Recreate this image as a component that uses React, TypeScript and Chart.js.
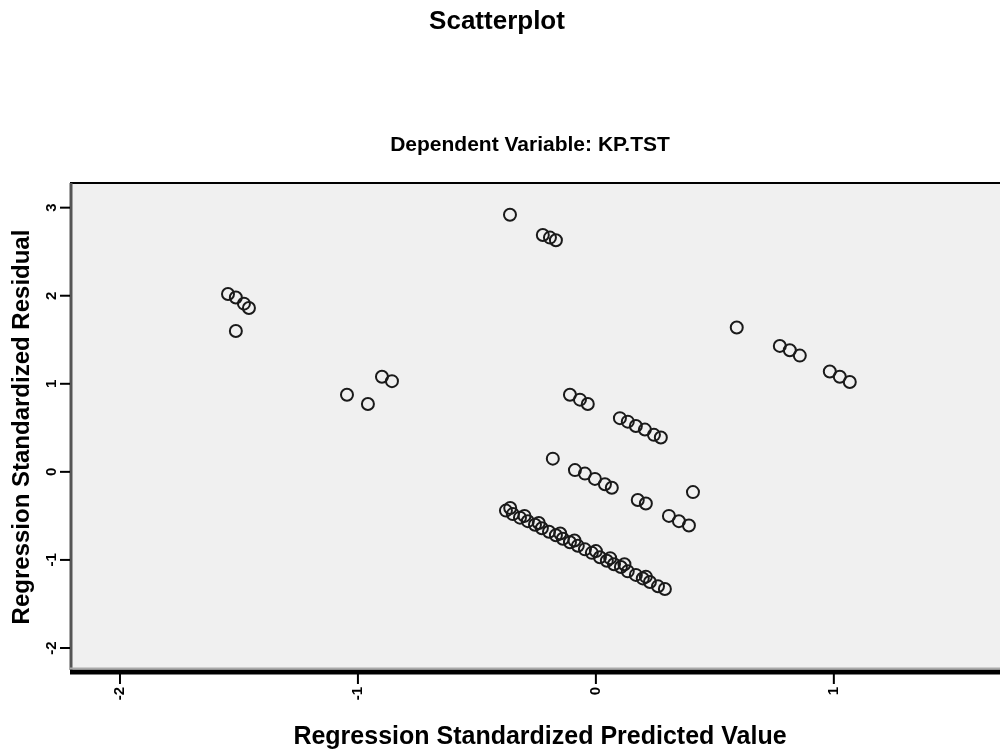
import React, { useEffect, useRef } from "react";
import { Chart, registerables } from "chart.js";

Chart.register(...registerables);

const chartTitle = "Scatterplot";
const subTitle = "Dependent Variable: KP.TST";
const xAxisTitle = "Regression Standardized Predicted Value";
const yAxisTitle = "Regression Standardized Residual";
const xTickValues = [-2, -1, 0, 1];
const yTickValues = [-2, -1, 0, 1, 2, 3];

const predictedValues = [
  -1.546, -1.513, -1.479, -1.458, -1.513,
  -1.046, -0.958, -0.899, -0.857,
  -0.361, -0.223, -0.193, -0.168,
  -0.109, -0.067, -0.034,
  0.101, 0.134, 0.168, 0.206, 0.244, 0.273,
  -0.181, -0.088, -0.046, -0.004, 0.038, 0.067,
  0.176, 0.21, 0.408,
  0.307, 0.349, 0.391,
  0.592, 0.773, 0.815, 0.857, 0.983, 1.025, 1.067,
  -0.378, -0.349, -0.319, -0.286, -0.256, -0.227, -0.197, -0.168, -0.139, -0.109,
  -0.076, -0.046, -0.017, 0.017, 0.046, 0.076, 0.105, 0.134, 0.168, 0.197,
  0.227, 0.261, 0.29,
  -0.36, -0.3, -0.24, -0.15, -0.09, 0.0, 0.06, 0.12, 0.21,
];

const residualValues = [
  2.02, 1.98, 1.91, 1.86, 1.6,
  0.875, 0.77, 1.08, 1.03,
  2.92, 2.69, 2.66, 2.63,
  0.875, 0.82, 0.77,
  0.61, 0.57, 0.52, 0.48, 0.42, 0.39,
  0.15, 0.02, -0.02, -0.08, -0.14, -0.18,
  -0.32, -0.36, -0.23,
  -0.5, -0.56, -0.61,
  1.64, 1.43, 1.38, 1.32, 1.14, 1.08, 1.02,
  -0.44, -0.48, -0.52, -0.56, -0.6, -0.64, -0.68, -0.72, -0.76, -0.8,
  -0.84, -0.88, -0.92, -0.97, -1.01, -1.05, -1.08, -1.13, -1.17, -1.21,
  -1.25, -1.3, -1.33,
  -0.41, -0.5, -0.58, -0.7, -0.78, -0.9, -0.98, -1.05, -1.19,
];

const FONT = '"Liberation Sans", Arial, sans-serif';

const sketchPlugin = {
  id: "spssFrame",
  beforeDraw(chart: any) {
    const { ctx, chartArea: a } = chart;
    ctx.save();
    ctx.fillStyle = "#ffffff";
    ctx.fillRect(0, 0, chart.width, chart.height);
    ctx.fillStyle = "#f0f0f0";
    ctx.fillRect(a.left, a.top, a.right - a.left, a.bottom - a.top);
    ctx.restore();
  },
  afterDraw(chart: any) {
    const { ctx, chartArea: a } = chart;
    const xs = chart.scales.x;
    const ys = chart.scales.y;
    ctx.save();
    // frame
    ctx.strokeStyle = "#000";
    ctx.lineWidth = 2;
    ctx.beginPath();
    ctx.moveTo(a.left, a.top);
    ctx.lineTo(a.right, a.top);
    ctx.lineTo(a.right, a.bottom);
    ctx.stroke();
    ctx.strokeStyle = "#555";
    ctx.lineWidth = 3;
    ctx.beginPath();
    ctx.moveTo(a.left + 1, a.top);
    ctx.lineTo(a.left + 1, a.bottom);
    ctx.stroke();
    ctx.strokeStyle = "#000";
    ctx.lineWidth = 5;
    ctx.beginPath();
    ctx.moveTo(a.left, a.bottom + 2);
    ctx.lineTo(a.right, a.bottom + 2);
    ctx.stroke();
    ctx.strokeStyle = "#aaa";
    ctx.lineWidth = 2;
    ctx.beginPath();
    ctx.moveTo(a.left, a.bottom - 1.5);
    ctx.lineTo(a.right, a.bottom - 1.5);
    ctx.stroke();

    // x ticks
    ctx.strokeStyle = "#000";
    ctx.lineWidth = 2;
    ctx.fillStyle = "#000";
    ctx.font = `bold 15px ${FONT}`;
    xTickValues.forEach((v) => {
      const px = xs.getPixelForValue(v);
      ctx.beginPath();
      ctx.moveTo(px, a.bottom + 4);
      ctx.lineTo(px, a.bottom + 14);
      ctx.stroke();
      ctx.save();
      ctx.translate(px, a.bottom + 17);
      ctx.rotate(-Math.PI / 2);
      ctx.textAlign = "right";
      ctx.textBaseline = "middle";
      ctx.fillText(String(v), 0, 0);
      ctx.restore();
    });
    // y ticks
    yTickValues.forEach((v) => {
      const py = ys.getPixelForValue(v);
      ctx.beginPath();
      ctx.moveTo(a.left, py);
      ctx.lineTo(a.left - 10, py);
      ctx.stroke();
      ctx.save();
      ctx.translate(a.left - 18, py);
      ctx.rotate(-Math.PI / 2);
      ctx.textAlign = "center";
      ctx.textBaseline = "middle";
      ctx.fillText(String(v), 0, 0);
      ctx.restore();
    });

    // titles
    ctx.textAlign = "center";
    ctx.textBaseline = "middle";
    ctx.font = `bold 26px ${FONT}`;
    ctx.fillText(chartTitle, 497, 22);
    ctx.font = `bold 21px ${FONT}`;
    ctx.fillText(subTitle, 530, 145);
    ctx.font = `bold 25px ${FONT}`;
    ctx.fillText(xAxisTitle, 540, 737);
    ctx.save();
    ctx.translate(22, 427);
    ctx.rotate(-Math.PI / 2);
    ctx.font = `bold 24px ${FONT}`;
    ctx.fillText(yAxisTitle, 0, 0);
    ctx.restore();
    ctx.restore();
  },
};

export default function App() {
  const ref = useRef<HTMLCanvasElement | null>(null);
  useEffect(() => {
    if (!ref.current) return;
    const data = predictedValues.map((x, i) => ({ x, y: residualValues[i] }));
    const chart = new Chart(ref.current, {
      type: "scatter",
      data: {
        datasets: [
          {
            data,
            pointRadius: 6,
            pointBorderWidth: 2,
            pointBorderColor: "#1a1a1a",
            pointBackgroundColor: "rgba(0,0,0,0)",
          },
        ],
      },
      options: {
        animation: false,
        responsive: false,
        layout: { padding: { left: 70, top: 183, right: 52, bottom: 82 } },
        plugins: { legend: { display: false }, tooltip: { enabled: false }, title: { display: false } },
        scales: {
          x: { type: "linear", display: false, min: -2.21, max: 1.9 },
          y: { type: "linear", display: false, min: -2.25, max: 3.28 },
        },
      },
      plugins: [sketchPlugin],
    });
    return () => chart.destroy();
  }, []);
  return (
    <div style={{ position: "fixed", left: 0, top: 0, width: 1100, height: 752, overflow: "hidden", background: "#fff" }}>
      <canvas ref={ref} width={1100} height={752} />
    </div>
  );
}
